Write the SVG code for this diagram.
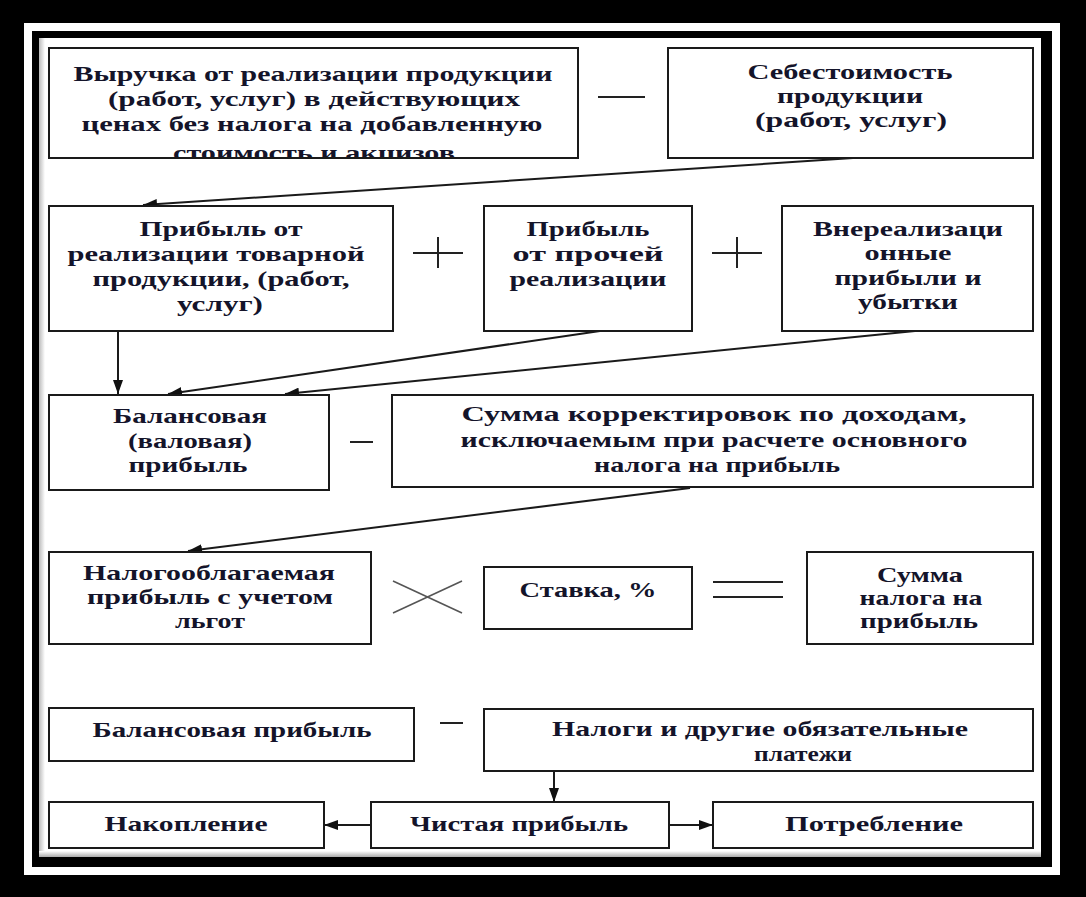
<svg xmlns="http://www.w3.org/2000/svg" width="1086" height="897" viewBox="0 0 1086 897">
<style>
.box{fill:#fff;stroke:#1a1a1a;stroke-width:2}
.t{font-family:'Liberation Serif','DejaVu Serif','Times New Roman',serif;font-weight:700;font-size:22px;fill:#14142a;text-anchor:middle}
.ln{stroke:#1a1a1a;stroke-width:2;fill:none}
.op{stroke:#222;stroke-width:2;fill:none}
</style>
<defs>
<marker id="ah" viewBox="0 0 14 10" refX="14" refY="5" markerWidth="14" markerHeight="10" markerUnits="userSpaceOnUse" orient="auto">
<path d="M0,0 L14,5 L0,10 z" fill="#111"/>
</marker>
<clipPath id="c1"><rect x="49" y="48" width="529" height="109"/></clipPath>
<linearGradient id="shL" x1="0" x2="1" y1="0" y2="0"><stop offset="0" stop-color="#bbb"/><stop offset="1" stop-color="#fff"/></linearGradient>
<linearGradient id="shB" x1="0" x2="0" y1="0" y2="1"><stop offset="0" stop-color="#fff"/><stop offset="1" stop-color="#aaa"/></linearGradient>
</defs>
<g id="frame">
<rect x="0" y="0" width="1086" height="897" fill="#000"/>
<rect x="24" y="23" width="1036" height="852" fill="#fff"/>
<rect x="32" y="31" width="1020" height="836" fill="#000"/>
<rect x="39" y="38" width="1002" height="819" fill="#fff"/>
<rect x="39" y="38" width="6" height="819" fill="url(#shL)"/>
<rect x="39" y="851" width="1002" height="6" fill="url(#shB)"/>
</g>
<g id="connectors">
<line class="ln" x1="853" y1="158" x2="143" y2="205" marker-end="url(#ah)"/>
<line class="ln" x1="118" y1="331" x2="118" y2="394" marker-end="url(#ah)"/>
<line class="ln" x1="600" y1="331" x2="168" y2="394" marker-end="url(#ah)"/>
<line class="ln" x1="915" y1="331" x2="285" y2="394" marker-end="url(#ah)"/>
<line class="ln" x1="690" y1="488" x2="188" y2="551" marker-end="url(#ah)"/>
<line class="ln" x1="554" y1="771" x2="554" y2="802" marker-end="url(#ah)"/>
<line class="ln" x1="371" y1="825" x2="324" y2="825" marker-end="url(#ah)"/>
<line class="ln" x1="669" y1="825" x2="713" y2="825" marker-end="url(#ah)"/>
</g>
<g id="operators">
<line class="op" x1="598" y1="97" x2="645" y2="97"/>
<line class="op" x1="413" y1="253" x2="463" y2="253"/>
<line class="op" x1="438" y1="237" x2="438" y2="268"/>
<line class="op" x1="712" y1="253" x2="762" y2="253"/>
<line class="op" x1="737" y1="237" x2="737" y2="268"/>
<line class="op" x1="350" y1="442" x2="373" y2="442"/>
<line class="op" x1="393" y1="581" x2="462" y2="613" style="stroke:#555;stroke-width:1.6"/>
<line class="op" x1="393" y1="613" x2="462" y2="581" style="stroke:#555;stroke-width:1.6"/>
<line class="op" x1="713" y1="582" x2="783" y2="582"/>
<line class="op" x1="713" y1="597" x2="783" y2="597"/>
<line class="op" x1="440" y1="723" x2="463" y2="723"/>
</g>
<g id="n1">
<rect class="box" x="49" y="48" width="529" height="110"/>
<g clip-path="url(#c1)">
<text class="t" x="313" y="81" textLength="479" lengthAdjust="spacingAndGlyphs">Выручка от реализации продукции</text>
<text class="t" x="314" y="106" textLength="412" lengthAdjust="spacingAndGlyphs">(работ, услуг) в действующих</text>
<text class="t" x="312" y="131" textLength="461" lengthAdjust="spacingAndGlyphs">ценах без налога на добавленную</text>
<text class="t" x="314" y="160" textLength="282" lengthAdjust="spacingAndGlyphs">стоимость и акцизов</text>
</g>
</g>
<g id="n2">
<rect class="box" x="668" y="48" width="365" height="110"/>
<text class="t" x="850" y="79" textLength="205" lengthAdjust="spacingAndGlyphs">Себестоимость</text>
<text class="t" x="850" y="103" textLength="146" lengthAdjust="spacingAndGlyphs">продукции</text>
<text class="t" x="851" y="127" textLength="192" lengthAdjust="spacingAndGlyphs">(работ, услуг)</text>
</g>
<g id="n3">
<rect class="box" x="49" y="206" width="344" height="125"/>
<text class="t" x="221" y="236" textLength="163" lengthAdjust="spacingAndGlyphs">Прибыль от</text>
<text class="t" x="216" y="261" textLength="297" lengthAdjust="spacingAndGlyphs">реализации товарной</text>
<text class="t" x="221" y="286" textLength="257" lengthAdjust="spacingAndGlyphs">продукции, (работ,</text>
<text class="t" x="220" y="311" textLength="86" lengthAdjust="spacingAndGlyphs">услуг)</text>
</g>
<g id="n4">
<rect class="box" x="484" y="206" width="208" height="125"/>
<text class="t" x="588" y="236" textLength="123" lengthAdjust="spacingAndGlyphs">Прибыль</text>
<text class="t" x="588" y="261" textLength="151" lengthAdjust="spacingAndGlyphs">от прочей</text>
<text class="t" x="588" y="286" textLength="157" lengthAdjust="spacingAndGlyphs">реализации</text>
</g>
<g id="n5">
<rect class="box" x="782" y="206" width="251" height="125"/>
<text class="t" x="908" y="236" textLength="190" lengthAdjust="spacingAndGlyphs">Внереализаци</text>
<text class="t" x="908" y="260" textLength="87" lengthAdjust="spacingAndGlyphs">онные</text>
<text class="t" x="908" y="285" textLength="147" lengthAdjust="spacingAndGlyphs">прибыли и</text>
<text class="t" x="908" y="309" textLength="100" lengthAdjust="spacingAndGlyphs">убытки</text>
</g>
<g id="n6">
<rect class="box" x="49" y="395" width="280" height="95"/>
<text class="t" x="190" y="423" textLength="154" lengthAdjust="spacingAndGlyphs">Балансовая</text>
<text class="t" x="190" y="448" textLength="124" lengthAdjust="spacingAndGlyphs">(валовая)</text>
<text class="t" x="188" y="472" textLength="119" lengthAdjust="spacingAndGlyphs">прибыль</text>
</g>
<g id="n7">
<rect class="box" x="392" y="395" width="641" height="92"/>
<text class="t" x="714" y="421" textLength="505" lengthAdjust="spacingAndGlyphs">Сумма корректировок по доходам,</text>
<text class="t" x="714" y="447" textLength="507" lengthAdjust="spacingAndGlyphs">исключаемым при расчете основного</text>
<text class="t" x="717" y="472" textLength="246" lengthAdjust="spacingAndGlyphs">налога на прибыль</text>
</g>
<g id="n8">
<rect class="box" x="49" y="552" width="322" height="92"/>
<text class="t" x="209" y="580" textLength="252" lengthAdjust="spacingAndGlyphs">Налогооблагаемая</text>
<text class="t" x="210" y="604" textLength="246" lengthAdjust="spacingAndGlyphs">прибыль с учетом</text>
<text class="t" x="210" y="628" textLength="70" lengthAdjust="spacingAndGlyphs">льгот</text>
</g>
<g id="n9">
<rect class="box" x="484" y="567" width="208" height="62"/>
<text class="t" x="588" y="597" textLength="137" lengthAdjust="spacingAndGlyphs">Ставка, %</text>
</g>
<g id="n10">
<rect class="box" x="807" y="552" width="226" height="92"/>
<text class="t" x="920" y="582" textLength="86" lengthAdjust="spacingAndGlyphs">Сумма</text>
<text class="t" x="921" y="605" textLength="123" lengthAdjust="spacingAndGlyphs">налога на</text>
<text class="t" x="919" y="628" textLength="118" lengthAdjust="spacingAndGlyphs">прибыль</text>
</g>
<g id="n11">
<rect class="box" x="49" y="708" width="365" height="53"/>
<text class="t" x="232" y="737" textLength="279" lengthAdjust="spacingAndGlyphs">Балансовая прибыль</text>
</g>
<g id="n12">
<rect class="box" x="484" y="709" width="549" height="62"/>
<text class="t" x="760" y="736" textLength="416" lengthAdjust="spacingAndGlyphs">Налоги и другие обязательные</text>
<text class="t" x="803" y="761" textLength="98" lengthAdjust="spacingAndGlyphs">платежи</text>
</g>
<g id="n13">
<rect class="box" x="49" y="802" width="275" height="46"/>
<text class="t" x="186" y="831" textLength="163" lengthAdjust="spacingAndGlyphs">Накопление</text>
</g>
<g id="n14">
<rect class="box" x="371" y="802" width="298" height="46"/>
<text class="t" x="519" y="831" textLength="218" lengthAdjust="spacingAndGlyphs">Чистая прибыль</text>
</g>
<g id="n15">
<rect class="box" x="713" y="802" width="320" height="46"/>
<text class="t" x="874" y="831" textLength="178" lengthAdjust="spacingAndGlyphs">Потребление</text>
</g>
</svg>
